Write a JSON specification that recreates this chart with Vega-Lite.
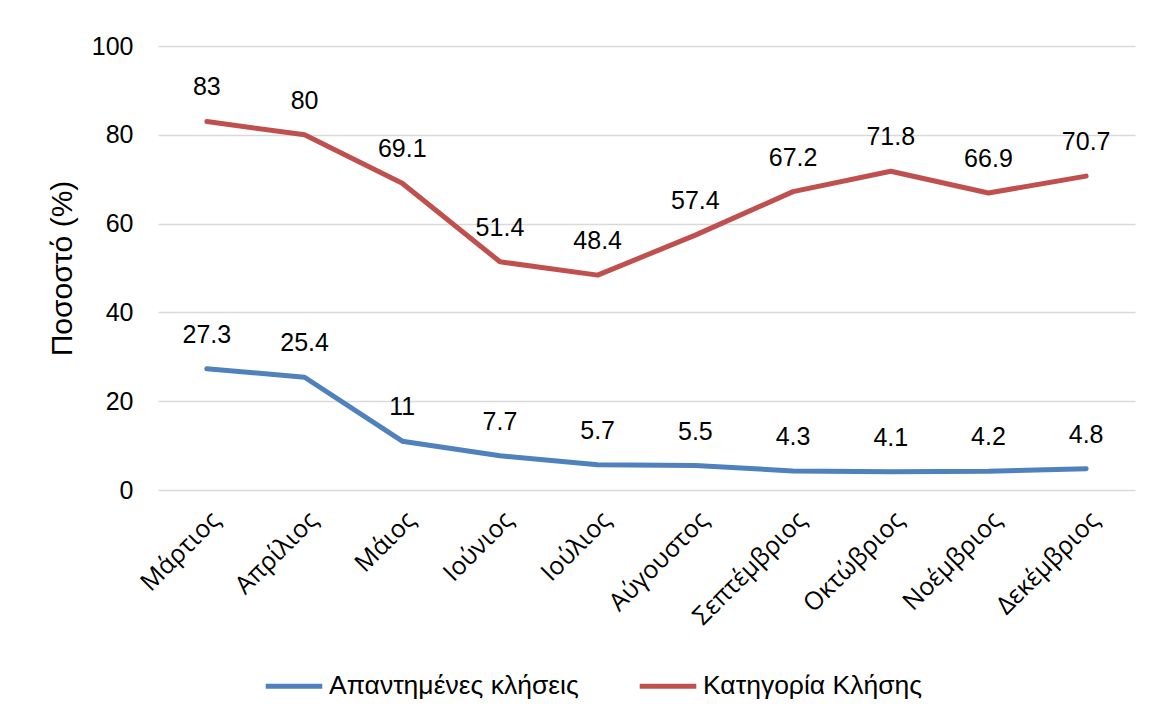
{
  "$schema": "https://vega.github.io/schema/vega-lite/v6.json",
  "width": 977,
  "height": 444,
  "autosize": {"type": "none"},
  "padding": {"left": 158, "top": 46, "right": 18, "bottom": 223},
  "background": "white",
  "data": {
    "values": [
      {"month": "Μάρτιος", "series": "Απαντημένες κλήσεις", "value": 27.3},
      {"month": "Απρίλιος", "series": "Απαντημένες κλήσεις", "value": 25.4},
      {"month": "Μάιος", "series": "Απαντημένες κλήσεις", "value": 11},
      {"month": "Ιούνιος", "series": "Απαντημένες κλήσεις", "value": 7.7},
      {"month": "Ιούλιος", "series": "Απαντημένες κλήσεις", "value": 5.7},
      {"month": "Αύγουστος", "series": "Απαντημένες κλήσεις", "value": 5.5},
      {"month": "Σεπτέμβριος", "series": "Απαντημένες κλήσεις", "value": 4.3},
      {"month": "Οκτώβριος", "series": "Απαντημένες κλήσεις", "value": 4.1},
      {"month": "Νοέμβριος", "series": "Απαντημένες κλήσεις", "value": 4.2},
      {"month": "Δεκέμβριος", "series": "Απαντημένες κλήσεις", "value": 4.8},
      {"month": "Μάρτιος", "series": "Κατηγορία Κλήσης", "value": 83},
      {"month": "Απρίλιος", "series": "Κατηγορία Κλήσης", "value": 80},
      {"month": "Μάιος", "series": "Κατηγορία Κλήσης", "value": 69.1},
      {"month": "Ιούνιος", "series": "Κατηγορία Κλήσης", "value": 51.4},
      {"month": "Ιούλιος", "series": "Κατηγορία Κλήσης", "value": 48.4},
      {"month": "Αύγουστος", "series": "Κατηγορία Κλήσης", "value": 57.4},
      {"month": "Σεπτέμβριος", "series": "Κατηγορία Κλήσης", "value": 67.2},
      {"month": "Οκτώβριος", "series": "Κατηγορία Κλήσης", "value": 71.8},
      {"month": "Νοέμβριος", "series": "Κατηγορία Κλήσης", "value": 66.9},
      {"month": "Δεκέμβριος", "series": "Κατηγορία Κλήσης", "value": 70.7}
    ]
  },
  "encoding": {
    "x": {
      "field": "month",
      "type": "nominal",
      "sort": null,
      "scale": {"type": "point", "padding": 0.5},
      "axis": {
        "title": null,
        "labelAngle": -45,
        "labelAlign": "right",
        "labelBaseline": "top",
        "labelFont": "Open Sans",
        "labelFontSize": 25,
        "labelColor": "#000000",
        "labelPadding": 17,
        "labelLimit": 300,
        "ticks": false,
        "domain": false,
        "grid": false
      }
    },
    "y": {
      "field": "value",
      "type": "quantitative",
      "scale": {"domain": [0, 100], "nice": false},
      "axis": {
        "title": "Ποσοστό (%)",
        "titleFont": "Liberation Sans",
        "titleFontSize": 30,
        "titleFontWeight": "normal",
        "titleColor": "#000000",
        "titlePadding": 14,
        "values": [0, 20, 40, 60, 80, 100],
        "labelFont": "Liberation Sans",
        "labelFontSize": 25,
        "labelColor": "#000000",
        "labelPadding": 25,
        "ticks": false,
        "domain": false,
        "grid": true,
        "gridColor": "#d9d9d9",
        "gridWidth": 1.5
      }
    },
    "color": {
      "field": "series",
      "type": "nominal",
      "scale": {
        "domain": ["Απαντημένες κλήσεις", "Κατηγορία Κλήσης"],
        "range": ["#4F81BD", "#C0504D"]
      },
      "legend": {
        "title": null,
        "orient": "none",
        "legendX": 105,
        "legendY": 609,
        "direction": "horizontal",
        "columns": 2,
        "columnPadding": 50,
        "symbolType": "stroke",
        "symbolSize": 3200,
        "symbolStrokeWidth": 5,
        "labelFont": "Liberation Sans",
        "labelFontSize": 26.5,
        "labelLimit": 400,
        "labelColor": "#000000",
        "labelOffset": 4
      }
    }
  },
  "layer": [
    {
      "mark": {"type": "line", "strokeWidth": 5, "interpolate": "linear", "strokeCap": "round", "strokeJoin": "round"}
    },
    {
      "mark": {
        "type": "text",
        "dy": -34,
        "baseline": "middle",
        "align": "center",
        "font": "Liberation Sans",
        "fontSize": 25,
        "color": "#000000"
      },
      "encoding": {
        "text": {"field": "value", "type": "quantitative"},
        "color": {"value": "#000000"}
      }
    }
  ],
  "config": {"view": {"stroke": null}}
}
